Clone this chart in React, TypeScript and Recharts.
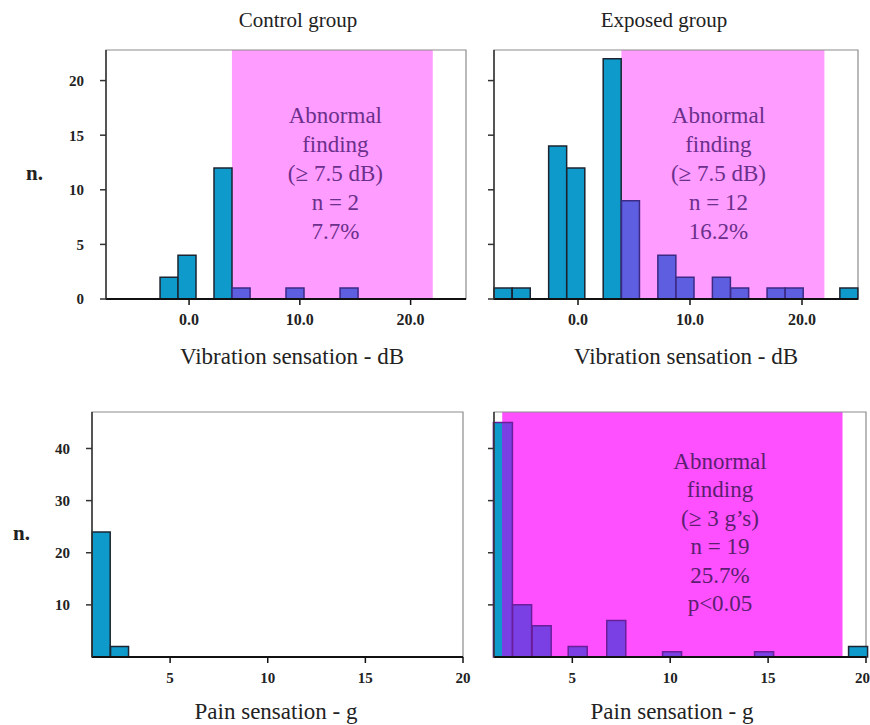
import React from 'react';
import { BarChart, Bar, Cell, XAxis, YAxis, ReferenceArea } from 'recharts';

// vibration histograms share the same 20 bins (dB)
const vibBins = [-6.69, -5.06, -3.44, -1.81, -0.19, 1.44, 3.06, 4.69, 6.31, 7.94, 9.56, 11.19, 12.81, 14.44, 16.06, 17.69, 19.31, 20.94, 22.56, 24.19];
const vibControl = [0, 0, 0, 2, 4, 0, 12, 1, 0, 0, 1, 0, 0, 1, 0, 0, 0, 0, 0, 0];
const vibExposed = [1, 1, 0, 14, 12, 0, 22, 9, 0, 4, 2, 0, 2, 1, 0, 1, 1, 0, 0, 1];

// pain histograms (g)
const painControlBins = [1.48, 2.42];
const painControl = [24, 2];
const painExposedBins = [1.46, 2.44, 3.44, 5.28, 7.25, 10.1, 14.8, 19.6];
const painExposed = [45, 10, 6, 2, 7, 1, 1, 2];

const vibTicks = [0, 10, 20];
const painTicks = [5, 10, 15, 20];
const vibCountTicks = [0, 5, 10, 15, 20];
const painCountTicks = [10, 20, 30, 40];

const vibNoteControl = ['Abnormal', 'finding', '(≥ 7.5 dB)', 'n = 2', '7.7%'];
const vibNoteExposed = ['Abnormal', 'finding', '(≥ 7.5 dB)', 'n = 12', '16.2%'];
const painNoteExposed = ['Abnormal', 'finding', '(≥ 3 g’s)', 'n = 19', '25.7%', 'p<0.05'];

const SERIF = '"Liberation Serif", "Times New Roman", serif';
const TEAL = '#0E9BCB';
const TEAL_EDGE = '#1B2430';

type Zone = {
  x1: number;
  x2: number;
  fill: string;
  bar: string;
  edge: string;
  text: string;
  lines: string[];
  frac: number;
  dy: number;
  step: number;
};

type PanelProps = {
  id: string;
  left: number;
  top: number;
  plotLeft: number;
  plotTop: number;
  plotRight: number;
  plotBottom: number;
  right: number;
  bins: number[];
  counts: number[];
  xDomain: [number, number];
  xTicks: number[];
  xFmt: (v: number) => string;
  xFont: number;
  yMax: number;
  yTicks: number[];
  yLabels: boolean;
  zone?: Zone;
};

const Panel: React.FC<PanelProps> = (p) => {
  const data = p.bins.map((x, i) => ({ x, n: p.counts[i] })).filter(d => d.n > 0);
  let gap = Infinity;
  for (let i = 1; i < p.bins.length; i++) gap = Math.min(gap, p.bins[i] - p.bins[i - 1]);
  const half = gap / 2;

  const width = p.plotRight - p.left + p.right;
  const xHeight = 40;
  const height = p.plotBottom - p.top + xHeight;
  const z = p.zone;

  const barStyle = (x: number) => {
    if (!z) return { fill: TEAL, stroke: TEAL_EDGE };
    const l = x - half;
    const r = x + half;
    if (l < z.x1 && r > z.x1 && (z.x1 - l) / (r - l) > 0.05) {
      return { fill: `url(#split-${p.id})`, stroke: z.edge };
    }
    if (x > z.x1 && x < z.x2) return { fill: z.bar, stroke: z.edge };
    return { fill: TEAL, stroke: TEAL_EDGE };
  };

  const splitAt = (() => {
    if (!z) return 0.5;
    const first = data.find(d => d.x - half < z.x1 && d.x + half > z.x1);
    return first ? (z.x1 - (first.x - half)) / (2 * half) : 0.5;
  })();

  return (
    <div style={{ position: 'absolute', left: p.left, top: p.top, width, height }}>
      <BarChart
        width={width}
        height={height}
        data={data}
        margin={{ top: p.plotTop - p.top, right: p.right, bottom: 0, left: 0 }}
        barCategoryGap={0}
        barGap={0}
      >
        <defs>
          {z && (
            <linearGradient id={`split-${p.id}`} x1="0" y1="0" x2="1" y2="0">
              <stop offset={splitAt} stopColor={TEAL} />
              <stop offset={splitAt} stopColor={z.bar} />
            </linearGradient>
          )}
        </defs>
        <XAxis
          type="number"
          dataKey="x"
          domain={p.xDomain}
          ticks={p.xTicks}
          tickFormatter={p.xFmt}
          height={xHeight}
          axisLine={{ stroke: '#111', strokeWidth: 2 }}
          tickLine={{ stroke: '#111', strokeWidth: 1.5 }}
          tickSize={6}
          tickMargin={9}
          tick={{ fill: '#222', fontSize: p.xFont, fontWeight: 700 }}
        />
        <YAxis
          type="number"
          domain={[0, p.yMax]}
          ticks={p.yTicks}
          width={p.plotLeft - p.left}
          tickFormatter={p.yLabels ? (v: number) => `${v}` : () => ''}
          axisLine={{ stroke: '#333', strokeWidth: 1.5 }}
          tickLine={{ stroke: '#333', strokeWidth: 1.5 }}
          tickSize={6}
          tickMargin={16}
          tick={{ fill: '#222', fontSize: 15, fontWeight: 700 }}
        />
        {z && (
          <ReferenceArea
            x1={z.x1}
            x2={z.x2}
            y1={0}
            y2={p.yMax}
            fill={z.fill}
            fillOpacity={1}
            stroke="none"
            label={(lp: any) => {
              const vb = lp.viewBox || {};
              const cx = vb.x + vb.width * z.frac;
              return (
                <text x={cx} y={vb.y + z.dy} textAnchor="middle" fill={z.text} fontSize={23} fontFamily={SERIF}>
                  {z.lines.map((l, i) => (
                    <tspan key={i} x={cx} dy={i === 0 ? 0 : z.step}>{l}</tspan>
                  ))}
                </text>
              );
            }}
          />
        )}
        <ReferenceArea
          x1={p.xDomain[0]}
          x2={p.xDomain[1]}
          y1={0}
          y2={p.yMax}
          fill="none"
          stroke="#8c8c8c"
          strokeWidth={1.2}
        />
        <Bar dataKey="n" isAnimationActive={false} strokeWidth={1.5}>
          {data.map((d, i) => {
            const s = barStyle(d.x);
            return <Cell key={i} fill={s.fill} stroke={s.stroke} />;
          })}
        </Bar>
      </BarChart>
    </div>
  );
};

const Caption: React.FC<{ cx: number; cy: number; size?: number; bold?: boolean; children: React.ReactNode }> = ({ cx, cy, size = 20, bold, children }) => (
  <div
    style={{
      position: 'absolute',
      left: cx - 200,
      top: cy - 13,
      width: 400,
      lineHeight: '26px',
      textAlign: 'center',
      fontSize: size,
      fontWeight: bold ? 700 : 400,
      color: '#222',
      whiteSpace: 'nowrap',
    }}
  >
    {children}
  </div>
);

const fmt1 = (v: number) => v.toFixed(1);
const fmt0 = (v: number) => `${v}`;

const topZone = { fill: '#FF9CFF', bar: '#5E5EE0', edge: '#3C2A86', text: '#6B2F8C', x1: 3.87, x2: 22, dy: 73, step: 29 };

export default function App() {
  return (
    <div style={{ position: 'absolute', left: 0, top: 0, width: 870, height: 725, background: '#fff', fontFamily: SERIF, overflow: 'hidden' }}>
      <Caption cx={298} cy={20} size={21}>Control group</Caption>
      <Caption cx={664} cy={20} size={21}>Exposed group</Caption>

      <div style={{ position: 'absolute', left: 26, top: 161, fontSize: 21, fontWeight: 700, lineHeight: '24px', color: '#222' }}>n.</div>
      <div style={{ position: 'absolute', left: 13, top: 521, fontSize: 21, fontWeight: 700, lineHeight: '24px', color: '#222' }}>n.</div>

      <Panel
        id="vc"
        left={0}
        top={40}
        plotLeft={106}
        plotTop={50}
        plotRight={466}
        plotBottom={299}
        right={10}
        bins={vibBins}
        counts={vibControl}
        xDomain={[-7.5, 25]}
        xTicks={vibTicks}
        xFmt={fmt1}
        xFont={16}
        yMax={22.8}
        yTicks={vibCountTicks}
        yLabels
        zone={{ ...topZone, lines: vibNoteControl, frac: 0.515 }}
      />
      <Panel
        id="ve"
        left={476}
        top={40}
        plotLeft={494}
        plotTop={50}
        plotRight={858}
        plotBottom={299}
        right={10}
        bins={vibBins}
        counts={vibExposed}
        xDomain={[-7.5, 25]}
        xTicks={vibTicks}
        xFmt={fmt1}
        xFont={16}
        yMax={22.8}
        yTicks={vibCountTicks}
        yLabels={false}
        zone={{ ...topZone, lines: vibNoteExposed, frac: 0.478 }}
      />
      <Panel
        id="pc"
        left={0}
        top={400}
        plotLeft={92}
        plotTop={412}
        plotRight={463}
        plotBottom={657}
        right={10}
        bins={painControlBins}
        counts={painControl}
        xDomain={[1, 20]}
        xTicks={painTicks}
        xFmt={fmt0}
        xFont={15}
        yMax={47}
        yTicks={painCountTicks}
        yLabels
      />
      <Panel
        id="pe"
        left={476}
        top={400}
        plotLeft={494}
        plotTop={412}
        plotRight={866}
        plotBottom={657}
        right={4}
        bins={painExposedBins}
        counts={painExposed}
        xDomain={[1, 20]}
        xTicks={painTicks}
        xFmt={fmt0}
        xFont={15}
        yMax={47}
        yTicks={painCountTicks}
        yLabels={false}
        zone={{
          fill: '#FF50FF',
          bar: '#7A40E4',
          edge: '#6A1E9A',
          text: '#5B1F70',
          x1: 1.42,
          x2: 18.8,
          lines: painNoteExposed,
          frac: 0.64,
          dy: 57,
          step: 28.4,
        }}
      />

      <Caption cx={292} cy={357} size={23}>Vibration sensation - dB</Caption>
      <Caption cx={686} cy={357} size={23}>Vibration sensation - dB</Caption>
      <Caption cx={276} cy={712} size={23}>Pain sensation - g</Caption>
      <Caption cx={672} cy={712} size={23}>Pain sensation - g</Caption>
    </div>
  );
}
